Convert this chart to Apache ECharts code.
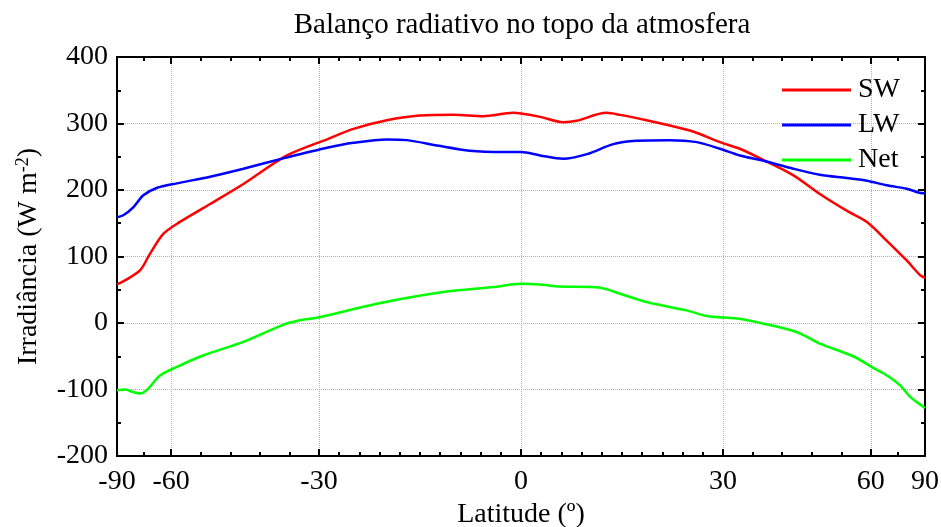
<!DOCTYPE html>
<html>
<head>
<meta charset="utf-8">
<script src="https://cdn.jsdelivr.net/npm/echarts@6/dist/echarts.min.js"></script>
<style>
  html, body { margin: 0; padding: 0; background: #fff; }
  #chart { width: 941px; height: 527px; }
</style>
</head>
<body>
<div id="chart"></div>
<script>
// Zonal-mean top-of-atmosphere radiation (W m-2) by latitude (degrees)
const swLat = [-90, -78.6, -70.6, -66.7, -62.3, -57.6, -50.3, -43.4, -35.4, -28.5, -24.5, -19.4, -14.5, -9.6, -5.4, -1.1, 0, 2.7, 6.0, 7.9, 12.2, 14.2, 18.1, 21.6, 25.2, 29.5, 32.8, 36.9, 42.4, 47.7, 53.7, 58.9, 64.8, 72.7, 81, 90];
const swVal = [58, 64, 79, 104, 134, 152, 179, 209, 252, 277, 292, 305, 312, 313, 311, 316, 315, 310, 302, 304, 316, 313, 305, 297, 288, 272, 262, 245, 222, 194, 169, 152, 124, 94, 72, 68];

const lwLat = [-90, -79.9, -73.7, -69.2, -64.4, -58.4, -50.3, -43.4, -35.4, -28.5, -24.5, -19.4, -16.4, -12, -7.3, -2.5, 0, 2.7, 6.0, 9.4, 13.2, 16.6, 21.6, 25.8, 29.5, 32.8, 36.9, 42.4, 47.7, 53.7, 58.9, 64.8, 72.7, 84.8, 90];
const lwVal = [159, 162, 174, 192, 203, 210, 220, 232, 249, 264, 271, 276, 275, 267, 259, 257, 257, 252, 247, 254, 269, 274, 275, 272, 262, 252, 244, 232, 223, 218, 214, 207, 202, 195, 196];

const netLat = [-90, -78.6, -73.7, -70.6, -67.9, -63.3, -58.4, -51.8, -43.4, -36, -33.7, -29.8, -20.9, -11.1, -3.9, 0, 2.7, 5.5, 11.3, 14.2, 18.1, 24.2, 27.4, 32.3, 36.9, 43, 47.7, 55.3, 60.2, 64.8, 69.7, 74.4, 84.8, 90];
const netVal = [-101, -100, -104, -106, -101, -79, -66, -48.5, -28.5, -2.4, 3, 9, 29, 46.5, 54, 59, 58, 55, 53, 44, 31.5, 19, 10.5, 6.6, -1, -13.5, -31, -50, -66, -78.5, -93.5, -111, -126, -128];

const seriesNames = ['SW', 'LW', 'Net'];
const latTicks = [-90, -60, -30, 0, 30, 60, 90];

// The latitude axis is area-weighted: positions follow sin(latitude)
const toSin = d => Math.sin(d * Math.PI / 180);
const majorPos = latTicks.map(toSin);
const minorSplits = [2, 5, 10, 10, 5, 2];
const minorPos = [];
for (let i = 0; i < majorPos.length - 1; i++) {
  const a = majorPos[i], b = majorPos[i + 1], n = minorSplits[i];
  for (let k = 1; k < n; k++) minorPos.push(a + (b - a) * k / n);
}
const pairs = (lat, val) => lat.map((d, i) => [toSin(d), val[i]]);

const FONT = 'Liberation Serif';
const FS = 28;
const gridLine = { show: true, lineStyle: { color: '#b0b0b0', type: 'dotted', width: 1 } };

function xAxisDef(position, ticks, len, withLine, withLabels, withGrid) {
  return {
    type: 'value', min: -1, max: 1, position: position,
    axisLine: { show: withLine, onZero: false, lineStyle: { color: '#000', width: 2 } },
    axisTick: { show: true, inside: true, length: len, customValues: ticks, lineStyle: { color: '#000', width: 2 } },
    axisLabel: withLabels ? {
      show: true, customValues: majorPos, margin: 12,
      fontFamily: FONT, fontSize: FS, color: '#000',
      formatter: v => String(Math.round(Math.asin(Math.max(-1, Math.min(1, v))) * 180 / Math.PI))
    } : { show: false },
    splitLine: withGrid ? gridLine : { show: false },
    minorTick: { show: false }
  };
}

function yAxisDef(position, withLabels, withGrid) {
  return {
    type: 'value', min: -200, max: 400, interval: 100, position: position,
    axisLine: { show: true, onZero: false, lineStyle: { color: '#000', width: 2 } },
    axisTick: { show: true, inside: true, length: 7, lineStyle: { color: '#000', width: 2 } },
    minorTick: { show: true, splitNumber: 2, length: 4, lineStyle: { color: '#000', width: 2 } },
    axisLabel: withLabels ? { show: true, margin: 9, fontFamily: FONT, fontSize: FS, color: '#000' } : { show: false },
    splitLine: withGrid ? gridLine : { show: false },
    name: withLabels ? 'Irradiância (W m{sup|-2})' : '',
    nameLocation: 'middle', nameGap: 73, nameRotate: 90,
    nameTextStyle: {
      fontFamily: FONT, fontSize: FS, color: '#000',
      rich: { sup: { fontFamily: FONT, fontSize: 18, color: '#000', verticalAlign: 'top', padding: [0, 0, 12, 0] } }
    }
  };
}

const chart = echarts.init(document.getElementById('chart'), null, { renderer: 'canvas' });
const xMain = xAxisDef('bottom', majorPos, 7, true, true, true);
xMain.name = 'Latitude (º)';
xMain.nameLocation = 'middle';
xMain.nameGap = 44;
xMain.nameTextStyle = { fontFamily: FONT, fontSize: FS, color: '#000' };

chart.setOption({
  animation: false,
  backgroundColor: '#fff',
  title: {
    text: 'Balanço radiativo no topo da atmosfera',
    left: 517, top: 6, textAlign: 'center',
    textStyle: { fontFamily: FONT, fontSize: 29, fontWeight: 'normal', color: '#000' }
  },
  legend: {
    data: seriesNames.map(n => ({ name: n, icon: 'rect' })),
    orient: 'vertical', left: 782, top: 76, padding: 0,
    itemWidth: 69, itemHeight: 3, itemGap: 7,
    textStyle: { fontFamily: FONT, fontSize: FS, lineHeight: 28, color: '#000', padding: [0, 0, 0, 2] }
  },
  grid: { left: 117, right: 16, top: 57, bottom: 71, containLabel: false, outerBoundsMode: 'none' },
  xAxis: [
    xMain,
    xAxisDef('bottom', minorPos, 4, false, false, false),
    xAxisDef('top', majorPos, 7, true, false, false),
    xAxisDef('top', minorPos, 4, false, false, false)
  ],
  yAxis: [yAxisDef('left', true, true), yAxisDef('right', false, false)],
  series: [
    { name: seriesNames[0], type: 'line', data: pairs(swLat, swVal), color: '#ff0000', lineStyle: { width: 2.5 }, symbol: 'none', smooth: 0.3 },
    { name: seriesNames[1], type: 'line', data: pairs(lwLat, lwVal), color: '#0000ff', lineStyle: { width: 2.5 }, symbol: 'none', smooth: 0.3 },
    { name: seriesNames[2], type: 'line', data: pairs(netLat, netVal), color: '#00ff00', lineStyle: { width: 2.5 }, symbol: 'none', smooth: 0.3 }
  ]
});
</script>
</body>
</html>
